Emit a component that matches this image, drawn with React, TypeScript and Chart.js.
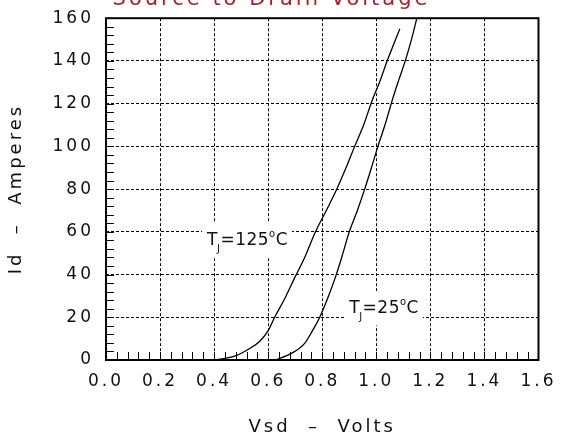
import React, { useEffect, useRef } from 'react';
import { Chart, registerables } from 'chart.js';

Chart.register(...registerables);

// ---- data ----
const vsd125 = [0.405, 0.479, 0.527, 0.570, 0.601, 0.623, 0.662, 0.694, 0.735, 0.775, 0.815, 0.854, 0.888, 0.920, 0.953, 0.985, 1.012, 1.040, 1.065, 1.087];
const id125 = [0, 1.9, 5, 8.9, 14, 19.8, 28.9, 37.4, 48, 60, 70, 80, 90, 100, 110, 121.6, 130, 140, 148, 155];
const vsd25 = [0.625, 0.686, 0.735, 0.765, 0.790, 0.820, 0.845, 0.872, 0.900, 0.930, 0.957, 0.982, 1.006, 1.032, 1.059, 1.083, 1.107, 1.130, 1.150];
const id25 = [0, 3.1, 7.8, 14, 19.8, 28.9, 37.4, 48, 60, 70, 80, 90, 100, 110, 121.6, 131, 140, 150, 160];

const chartTitle = 'Source to Drain Voltage';
const xTitle = 'Vsd  \u2013  Volts';
const yTitle = 'Id  \u2013  Amperes';

const xMin = 0, xMax = 1.6, xStep = 0.2, xMinorStep = 0.04;
const yMin = 0, yMax = 160, yStep = 20, yMinorStep = 4;

// curve labels: anchor in data units (V, A)
const curveLabels = [
  { base: 'T', sub: 'J', mid: '=125', sup: 'o', tail: 'C', v: 0.374, a: 53.8 },
  { base: 'T', sub: 'J', mid: '=25', sup: 'o', tail: 'C', v: 0.9, a: 21.8 },
];

const FONT = '"DejaVu Sans", sans-serif';
const INK = '#111';

const framePlugin = {
  id: 'frame',
  beforeDraw(chart: any) {
    chart.ctx.letterSpacing = '3px';
  },
  afterDatasetsDraw(chart: any) {
    const { ctx, chartArea: a, scales } = chart;
    const x = scales.x, y = scales.y;
    ctx.save();
    // minor ticks (inward) on left and bottom
    ctx.strokeStyle = '#000';
    ctx.lineWidth = 1;
    ctx.setLineDash([]);
    ctx.beginPath();
    const nx = Math.round((xMax - xMin) / xMinorStep);
    for (let k = 1; k < nx; k++) {
      const px = Math.round(x.getPixelForValue(xMin + k * xMinorStep)) + 0.5;
      ctx.moveTo(px, a.bottom);
      ctx.lineTo(px, a.bottom - 8);
    }
    const ny = Math.round((yMax - yMin) / yMinorStep);
    for (let k = 1; k < ny; k++) {
      const py = Math.round(y.getPixelForValue(yMin + k * yMinorStep)) + 0.5;
      ctx.moveTo(a.left, py);
      ctx.lineTo(a.left + 8, py);
    }
    ctx.stroke();

    // curve labels
    ctx.letterSpacing = '0.5px';
    ctx.textBaseline = 'alphabetic';
    ctx.textAlign = 'left';
    for (const lb of curveLabels) {
      const px = x.getPixelForValue(lb.v);
      const py = y.getPixelForValue(lb.a);
      ctx.font = `17px ${FONT}`;
      const wBase = ctx.measureText(lb.base).width;
      const wMid = ctx.measureText(lb.mid).width;
      const wTail = ctx.measureText(lb.tail).width;
      ctx.font = `10px ${FONT}`;
      const wSub = ctx.measureText(lb.sub).width;
      const wSup = ctx.measureText(lb.sup).width;
      const total = wBase + wSub + wMid + wSup + wTail;
      ctx.fillStyle = '#fff';
      ctx.fillRect(px - 5, py - 22, total + 8, 34);
      ctx.fillStyle = INK;
      let cx = px;
      ctx.font = `17px ${FONT}`;
      ctx.fillText(lb.base, cx, py); cx += wBase - 1;
      ctx.font = `10px ${FONT}`;
      ctx.fillText(lb.sub, cx, py + 7); cx += wSub;
      ctx.font = `17px ${FONT}`;
      ctx.fillText(lb.mid, cx, py); cx += wMid;
      ctx.font = `10px ${FONT}`;
      ctx.fillText(lb.sup, cx, py - 8); cx += wSup;
      ctx.font = `17px ${FONT}`;
      ctx.fillText(lb.tail, cx, py);
    }

    // frame
    ctx.strokeStyle = '#000';
    ctx.lineWidth = 2;
    ctx.strokeRect(a.left, a.top, a.right - a.left, a.bottom - a.top);
    ctx.restore();
  },
};

export default function App() {
  const ref = useRef<HTMLCanvasElement | null>(null);
  useEffect(() => {
    const canvas = ref.current;
    if (!canvas) return;
    const chart = new Chart(canvas, {
      type: 'line',
      data: {
        datasets: [
          {
            label: 'TJ=125°C',
            data: vsd125.map((v, i) => ({ x: v, y: id125[i] })),
            borderColor: '#000',
            borderWidth: 1.3,
            pointRadius: 0,
            cubicInterpolationMode: 'monotone',
            fill: false,
          },
          {
            label: 'TJ=25°C',
            data: vsd25.map((v, i) => ({ x: v, y: id25[i] })),
            borderColor: '#000',
            borderWidth: 1.3,
            pointRadius: 0,
            cubicInterpolationMode: 'monotone',
            fill: false,
          },
        ],
      },
      options: {
        animation: false,
        responsive: false,
        devicePixelRatio: 1,
        layout: { padding: { left: 0, right: 20, top: 0, bottom: 0 } },
        plugins: {
          legend: { display: false },
          tooltip: { enabled: false },
          title: {
            display: true,
            text: chartTitle,
            color: '#b0202a',
            font: { family: FONT, size: 21, weight: 'normal' },
            padding: { top: 0, bottom: 6 },
          },
        },
        scales: {
          x: {
            type: 'linear',
            min: xMin,
            max: xMax,
            afterFit: (s: any) => { s.height = 79; },
            ticks: {
              stepSize: xStep,
              autoSkip: false,
              maxRotation: 0,
              padding: 11,
              color: INK,
              font: { family: FONT, size: 17 },
              callback: (v: any) => Number(v).toFixed(1),
            },
            grid: { color: '#000', lineWidth: 1, drawTicks: false },
            border: { display: false, dash: [3, 2] },
            title: {
              display: true,
              text: xTitle,
              color: INK,
              font: { family: FONT, size: 18 },
              padding: { top: 0, bottom: 1 },
            },
          },
          y: {
            type: 'linear',
            min: yMin,
            max: yMax,
            afterFit: (s: any) => { s.width = 106; },
            ticks: {
              stepSize: yStep,
              padding: 12,
              color: INK,
              font: { family: FONT, size: 17 },
            },
            grid: { color: '#000', lineWidth: 1, drawTicks: false },
            border: { display: false, dash: [3, 2] },
            title: {
              display: true,
              text: yTitle,
              color: INK,
              font: { family: FONT, size: 18 },
              padding: { top: 6, bottom: 0 },
            },
          },
        },
      },
      plugins: [framePlugin],
    } as any);
    return () => chart.destroy();
  }, []);
  return (
    <div style={{ position: 'absolute', left: 0, top: -13, width: 563, height: 452 }}>
      <canvas ref={ref} width={563} height={452} style={{ display: 'block' }} />
    </div>
  );
}
